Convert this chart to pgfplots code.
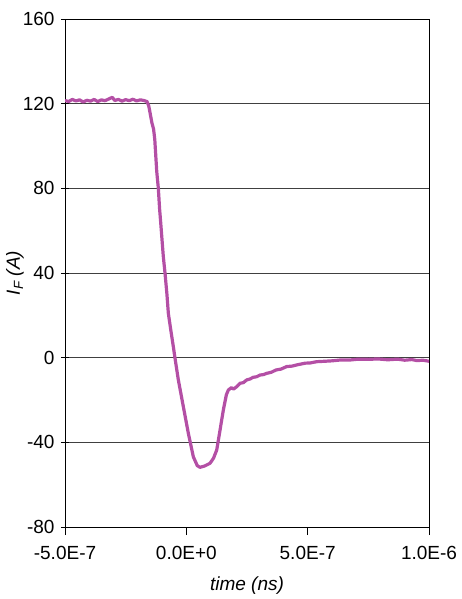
\documentclass[border=0pt]{standalone}
\usepackage{pgfplots}
\usepackage{pgfplotstable}
\pgfplotsset{compat=1.18}
\usepackage{fontspec}
\setmainfont{Liberation Sans}
\definecolor{curve}{RGB}{180,79,165}
\pgfplotstableread{
t y
-5.00 121.5
-4.85 121.0
-4.70 122.0
-4.55 121.3
-4.40 121.8
-4.25 120.8
-4.10 121.6
-3.95 121.2
-3.80 122.0
-3.65 121.0
-3.50 121.8
-3.35 121.4
-3.20 122.2
-3.05 123.0
-2.95 121.5
-2.80 122.0
-2.65 121.2
-2.50 121.9
-2.35 121.4
-2.20 122.1
-2.05 121.3
-1.90 121.8
-1.75 121.5
-1.62 121.0
-1.55 119.0
-1.50 116.0
-1.42 111.0
-1.35 108.0
-1.30 103.0
-1.22 88.0
-1.154 80.0
-1.10 70.0
-1.055 63.6
-0.948 47.7
-0.878 39.9
-0.80 30.0
-0.742 21.0
-0.64 13.0
-0.536 5.2
-0.466 -0.3
-0.33 -10.5
-0.124 -23.1
0.082 -35.7
0.288 -46.8
0.45 -51.0
0.564 -51.8
0.75 -51.2
0.976 -49.9
1.12 -47.5
1.253 -43.6
1.389 -34.2
1.525 -24.7
1.65 -17.5
1.731 -15.3
1.85 -14.2
1.95 -14.8
2.077 -13.7
2.213 -12.1
2.35 -11.8
2.489 -10.5
2.62 -10.1
2.75 -9.3
2.90 -9.0
3.037 -8.2
3.18 -8.0
3.313 -7.4
3.50 -6.9
3.70 -5.8
3.90 -5.4
4.137 -4.2
4.35 -4.0
4.60 -3.3
4.90 -2.6
5.10 -2.5
5.373 -1.9
5.70 -1.7
6.00 -1.5
6.35 -1.1
6.745 -1.1
7.10 -0.7
7.50 -0.8
7.90 -0.6
8.30 -1.0
8.70 -0.7
9.00 -1.2
9.30 -0.9
9.50 -1.4
9.75 -1.2
10.00 -1.7
}\datatable
\begin{document}
\begin{tikzpicture}
\useasboundingbox (-65pt,-72pt) rectangle (396pt,527pt);
\begin{axis}[
  scale only axis,
  width=364pt, height=508pt,
  xmin=-5e-7, xmax=1e-6,
  ymin=-80, ymax=160,
  xtick={-5e-7,0,5e-7,1e-6},
  xticklabels={-5.0E-7,0.0E+0,5.0E-7,1.0E-6},
  ytick={-80,-40,0,40,80,120,160},
  /pgf/number format/assume math mode=true,
  ymajorgrids,
  grid style={black!75, line width=0.7pt},
  axis line style={black, line width=0.9pt},
  x tick style={black, line width=0.9pt},
  y tick style={black, line width=0.9pt},
  xtick pos=bottom, ytick pos=left,
  xtick align=outside,
  ytick align=center,
  major tick length=8pt,
  tick label style={font=\fontsize{19}{22}\selectfont},
  xticklabel style={yshift=-8pt},
  yticklabel style={xshift=-3pt},
  label style={font=\fontsize{19}{22}\selectfont\itshape},
  xlabel={time (ns)},
  xlabel style={yshift=-10pt},
  ylabel={I\textsubscript{F} (A)},
  ylabel style={yshift=-8pt},
  scaled x ticks=false,
]
\addplot[curve, line width=3.2pt, line join=round] table[x expr=\thisrow{t}*1e-7, y=y] {\datatable};
\end{axis}
\end{tikzpicture}
\end{document}
